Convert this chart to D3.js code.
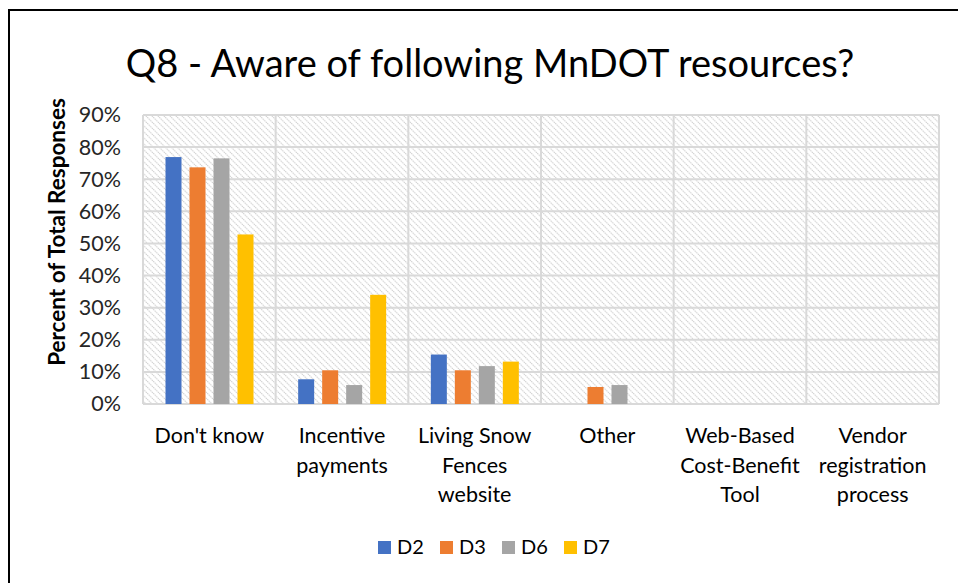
<!DOCTYPE html>
<html>
<head>
<meta charset="utf-8">
<script src="https://cdn.jsdelivr.net/npm/d3@7"></script>
<style>
  html, body { margin: 0; padding: 0; background: #fff; }
  svg { display: block; }
  text { font-family: Lato, "Open Sans", sans-serif; }
</style>
</head>
<body>
<svg id="chart" width="958" height="583"></svg>
<script>
const title = "Q8 - Aware of following MnDOT resources?";
const yAxisTitle = "Percent of Total Responses";
const categories = ["Don't know", "Incentive\npayments", "Living Snow\nFences\nwebsite", "Other", "Web-Based\nCost-Benefit\nTool", "Vendor\nregistration\nprocess"];
const seriesNames = ["D2", "D3", "D6", "D7"];
const d2Values = [76.9, 7.7, 15.4, 0, 0, 0];
const d3Values = [73.7, 10.5, 10.5, 5.3, 0, 0];
const d6Values = [76.5, 5.9, 11.8, 5.9, 0, 0];
const d7Values = [52.8, 34.0, 13.2, 0, 0, 0];
const seriesColors = ["#4472C4", "#ED7D31", "#A5A5A5", "#FFC000"];
const yTicks = [0, 10, 20, 30, 40, 50, 60, 70, 80, 90];

const seriesValues = [d2Values, d3Values, d6Values, d7Values];
const svg = d3.select("#chart");

// outer frame
svg.append("rect").attr("width", 958).attr("height", 583).attr("fill", "#fff");
svg.append("path").attr("d", "M9,583V10H958").attr("fill", "none").attr("stroke", "#000").attr("stroke-width", 2);

const plot = { left: 143, right: 939, top: 115, bottom: 404 };

const x0 = d3.scaleBand().domain(categories).range([plot.left, plot.right]).padding(0);
const x1 = d3.scaleBand().domain(seriesNames).range([22.5, 110.5]).paddingInner(1 / 3).paddingOuter(0);
const y = d3.scaleLinear().domain([0, 90]).range([plot.bottom, plot.top]);
const color = d3.scaleOrdinal().domain(seriesNames).range(seriesColors);

// hatch pattern
const defs = svg.append("defs");
const pat = defs.append("pattern").attr("id", "hatch").attr("patternUnits", "userSpaceOnUse")
  .attr("width", 6).attr("height", 6);
pat.append("rect").attr("width", 6).attr("height", 6).attr("fill", "#fff");
pat.append("path").attr("d", "M-1,-1L7,7M-1,5L1,7M5,-1L7,1")
  .attr("stroke", "#d2d2d2").attr("stroke-width", 1.1).attr("stroke-dasharray", "1.4,0.6");

svg.append("rect").attr("x", plot.left).attr("y", plot.top)
  .attr("width", plot.right - plot.left).attr("height", plot.bottom - plot.top)
  .attr("fill", "url(#hatch)");

// gridlines
const grid = svg.append("g").attr("stroke", "#d9d9d9").attr("stroke-width", 2);
grid.selectAll("line.h").data(yTicks).join("line").attr("class", "h")
  .attr("x1", plot.left).attr("x2", plot.right)
  .attr("y1", d => y(d)).attr("y2", d => y(d));
const vEdges = categories.map(c => x0(c)).concat([x0(categories[categories.length - 1]) + x0.bandwidth()]);
grid.selectAll("line.v").data(vEdges).join("line").attr("class", "v")
  .attr("x1", d => d).attr("x2", d => d)
  .attr("y1", plot.top).attr("y2", plot.bottom);

// bars
const groups = svg.append("g").selectAll("g").data(categories).join("g")
  .attr("transform", d => `translate(${x0(d)},0)`);
groups.selectAll("rect").data((c, i) => seriesNames.map((s, k) => ({ s, v: seriesValues[k][i] })))
  .join("rect")
  .attr("x", d => x1(d.s)).attr("width", x1.bandwidth())
  .attr("y", d => y(d.v)).attr("height", d => y(0) - y(d.v))
  .attr("fill", d => color(d.s));

// y axis
const yAxis = d3.axisLeft(y).tickValues(yTicks).tickFormat(d => d + "%").tickSize(0).tickPadding(22);
const yg = svg.append("g").attr("transform", `translate(${plot.left},0)`).call(yAxis);
yg.select(".domain").remove();
yg.selectAll("text").attr("font-size", 21.5).attr("fill", "#262626").attr("font-family", "Lato, sans-serif");

// x labels
const xl = svg.append("g");
categories.forEach(c => {
  const t = xl.append("text").attr("text-anchor", "middle").attr("font-size", 21.5).attr("fill", "#000")
    .attr("x", x0(c) + x0.bandwidth() / 2).attr("y", 443);
  c.split("\n").forEach((line, i) => {
    t.append("tspan").attr("x", x0(c) + x0.bandwidth() / 2).attr("dy", i === 0 ? 0 : 29.5).text(line);
  });
});

// y title
svg.append("text").attr("transform", "translate(65,232) rotate(-90)")
  .attr("text-anchor", "middle").attr("font-weight", "bold").attr("font-size", 22.5).attr("fill", "#000")
  .text(yAxisTitle);

// title
svg.append("text").attr("x", 490).attr("y", 77).attr("text-anchor", "middle")
  .attr("font-size", 38).attr("fill", "#000").text(title);

// legend
const legend = svg.append("g").selectAll("g").data(seriesNames).join("g")
  .attr("transform", (d, i) => `translate(${378 + i * 62},0)`);
legend.append("rect").attr("x", 0).attr("y", 541).attr("width", 13).attr("height", 13).attr("fill", d => color(d));
legend.append("text").attr("x", 19).attr("y", 554).attr("font-size", 20).attr("fill", "#000").text(d => d);
</script>
</body>
</html>
